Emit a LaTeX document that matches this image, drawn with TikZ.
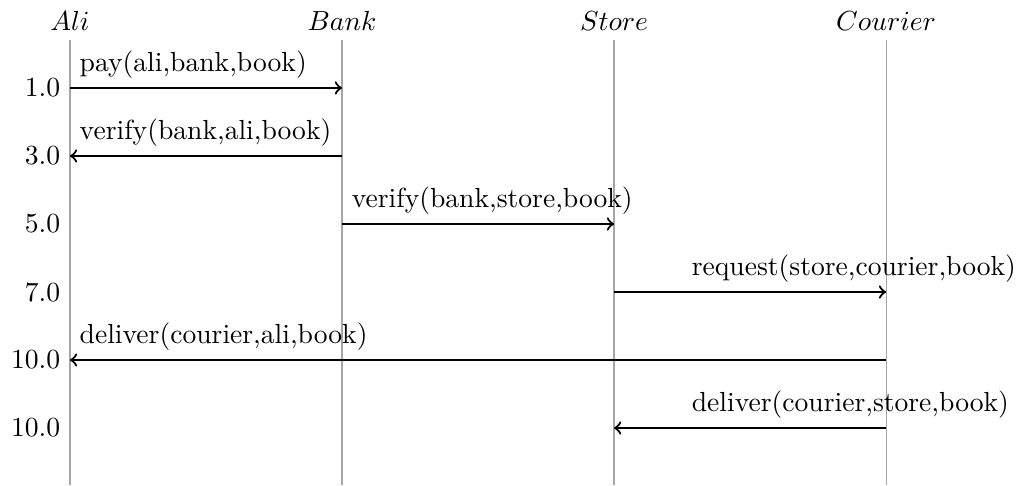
\documentclass[tikz,border=0pt]{standalone}
\usepackage{tikz}

\begin{document}
\begin{tikzpicture}[
    actor/.style={anchor=south},
    lifeline/.style={draw=black!35, thin},
    msg/.style={->, thick},
    msglabel/.style={anchor=south west},
    timelabel/.style={anchor=east},
]

    \def\xScale{3.464}
    \def\yScale{0.866}

    \useasboundingbox (-0.891, 0.509) rectangle (12.161, -5.667);

    % actors and their lifelines
    \foreach \i/\name in {0/Ali, 1/Bank, 2/Store, 3/Courier}
    {
        \coordinate (top_\i) at (\i*\xScale, 0);
        \coordinate (bot_\i) at (\i*\xScale, -5.667);
        \node [actor] at (top_\i) (head_\i) {$\name$};
        \draw [lifeline] (top_\i) -- (bot_\i);
    }

    % messages
    \foreach \i/\from/\to/\time/\lbl/\shift in {
    % i:     the i message from top,
    % from:  sending actor,
    % to:    receiving actor,
    % shift: label shift along the arrow
    1/0/1/1.0/{pay(ali,bank,book)}/0,
    2/1/0/3.0/{verify(bank,ali,book)}/0,
    3/1/2/5.0/{verify(bank,store,book)}/0,
    4/2/3/7.0/{request(store,courier,book)}/1,
    5/3/0/10.0/{deliver(courier,ali,book)}/0,
    6/3/2/10.0/{deliver(courier,store,book)}/1}
    {
        \pgfmathsetmacro{\posY}{-0.611 - (\i-1)*\yScale}
        \pgfmathsetmacro{\lft}{min(\from,\to)}
        \coordinate (msg_\i_s) at (\from*\xScale, \posY);
        \coordinate (msg_\i_e) at (\to*\xScale, \posY);
        \draw [msg] (msg_\i_s) -- (msg_\i_e);
        \node [msglabel] at (\lft*\xScale + \shift*\yScale, \posY) (lbl_\i) {\lbl};
        \node [timelabel] at (0, \posY) (time_\i) {\time};
    }

\end{tikzpicture}
\end{document}
